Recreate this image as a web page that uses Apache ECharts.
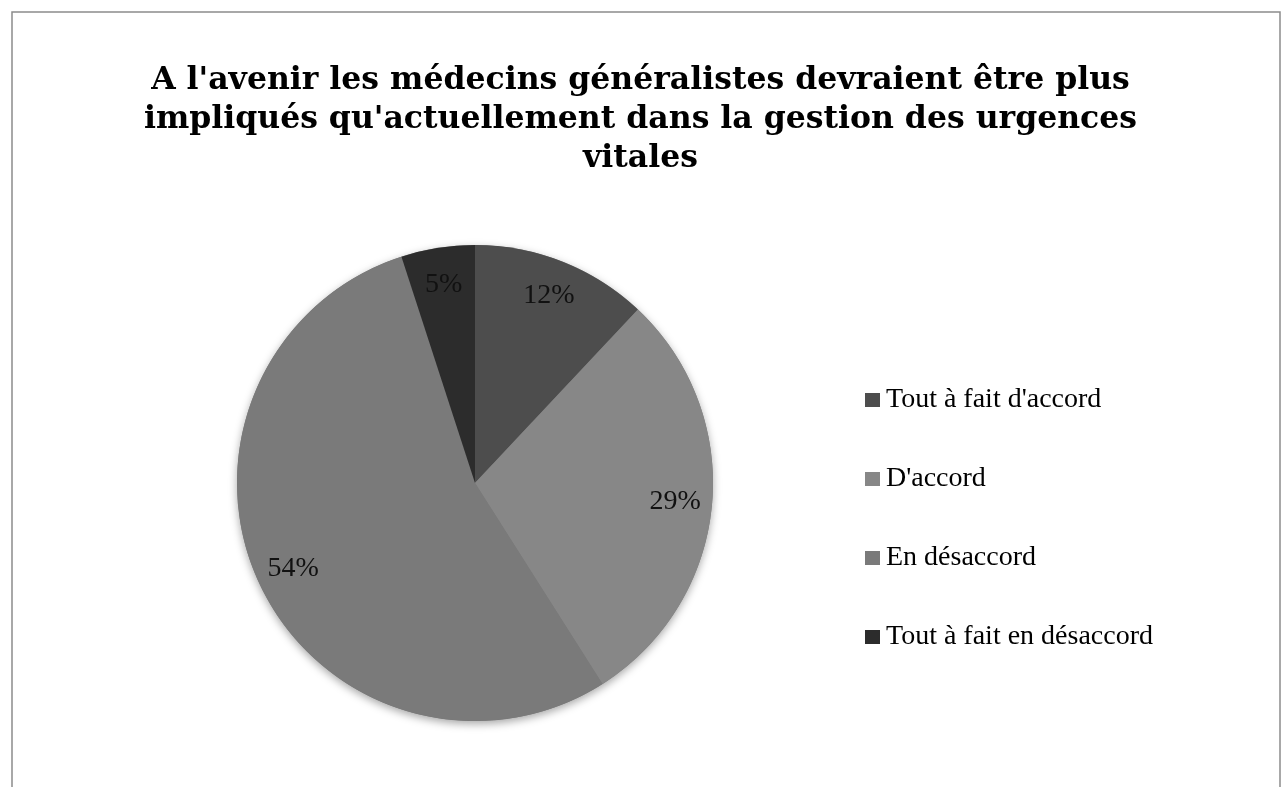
<!DOCTYPE html>
<html>
<head>
<meta charset="utf-8">
<script src="https://cdn.jsdelivr.net/npm/echarts@6/dist/echarts.min.js"></script>
<style>
  html, body { margin: 0; padding: 0; background: #fff; }
  #chart { width: 1281px; height: 787px; }
</style>
</head>
<body>
<div id="chart"></div>
<script>
const categories = ["Tout à fait d'accord", "D'accord", 'En désaccord', 'Tout à fait en désaccord'];
const shares = [12, 29, 54, 5];
const sliceColors = ['#4d4d4d', '#878787', '#7a7a7a', '#2c2c2c'];

const chart = echarts.init(document.getElementById('chart'));
const pieData = categories.map((name, i) => ({
  name: name,
  value: shares[i],
  itemStyle: { color: sliceColors[i] }
}));
const total = shares.reduce((a, b) => a + b, 0);

const option = {
  animation: false,
  color: sliceColors,
  title: {
    text: "A l'avenir les médecins généralistes devraient être plus\nimpliqués qu'actuellement dans la gestion des urgences\nvitales",
    left: 'center',
    top: 56,
    textStyle: {
      fontFamily: 'DejaVu Serif',
      fontWeight: 'bold',
      fontSize: 31.5,
      lineHeight: 39,
      color: '#000'
    }
  },
  legend: {
    orient: 'vertical',
    left: 860,
    top: 381,
    itemWidth: 15,
    itemHeight: 14,
    itemGap: 51,
    icon: 'rect',
    data: categories,
    textStyle: {
      fontFamily: 'Liberation Serif',
      fontSize: 28,
      color: '#000',
      padding: [0, 0, 0, 1]
    }
  },
  graphic: [{
    type: 'rect',
    shape: { x: 12, y: 12, width: 1268, height: 800 },
    style: { fill: 'none', stroke: '#8c8c8c', lineWidth: 1.5 },
    silent: true
  }],
  series: [
    {
      // full disc behind the slices, only to cast the soft shadow
      type: 'pie',
      center: [475, 483],
      radius: [0, 238],
      silent: true,
      z: 1,
      data: [{ name: '', value: total }],
      label: { show: false },
      labelLine: { show: false },
      itemStyle: {
        color: '#7a7a7a',
        shadowBlur: 8,
        shadowColor: 'rgba(0,0,0,0.35)',
        shadowOffsetY: 3
      },
      emphasis: { disabled: true }
    },
    {
      type: 'pie',
      center: [475, 483],
      radius: [0, 238],
      startAngle: 90,
      clockwise: true,
      z: 2,
      data: pieData,
      label: { show: false },
      labelLine: { show: false },
      itemStyle: { borderWidth: 0 },
      emphasis: { disabled: true }
    },
    {
      // transparent ring used only to place the percentage labels
      type: 'pie',
      center: [475, 483],
      radius: [158, 238],
      startAngle: 90,
      clockwise: true,
      silent: true,
      z: 3,
      data: categories.map((name, i) => ({ name: name, value: shares[i] })),
      itemStyle: { color: 'rgba(0,0,0,0)' },
      label: {
        show: true,
        position: 'inside',
        formatter: '{c}%',
        fontFamily: 'Liberation Serif',
        fontSize: 28,
        color: '#111'
      },
      labelLine: { show: false },
      emphasis: { disabled: true }
    }
  ]
};
chart.setOption(option);
</script>
</body>
</html>
